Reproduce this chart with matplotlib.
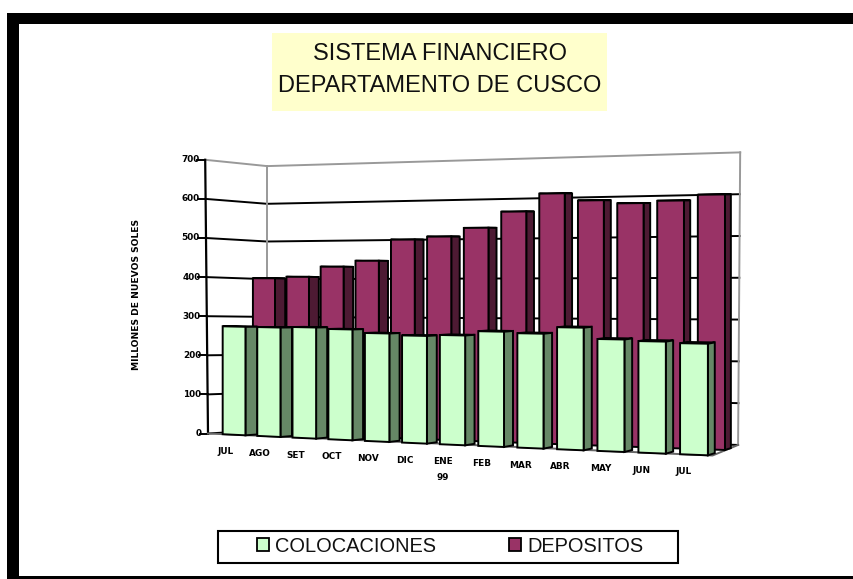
import matplotlib
matplotlib.use("Agg")
import matplotlib.pyplot as plt
from matplotlib.patches import Polygon, Rectangle, Patch

categories = ["JUL", "AGO", "SET", "OCT", "NOV", "DIC", "ENE\n99", "FEB", "MAR", "ABR", "MAY", "JUN", "JUL"]
colocaciones = [275, 275, 277, 274, 266, 262, 265, 276, 273, 289, 263, 260, 257]
depositos = [400, 404, 430, 445, 498, 505, 526, 565, 608, 590, 582, 587, 600]
y_ticks = [0, 100, 200, 300, 400, 500, 600, 700]
title_lines = ["SISTEMA FINANCIERO", "DEPARTAMENTO DE CUSCO"]
y_label = "MILLONES DE NUEVOS SOLES"

GREEN, GREEN_SIDE = "#CCFFCC", "#668866"
WINE, WINE_SIDE = "#993366", "#4D1A33"
YMAX = 700
UMAX = 13.2
UB = 13.0
LW = 1.4


def xf(u):
    return 208 + 34 * u + 0.32 * u * u


def proj(u, v, w, lean=False):
    """Pseudo-3D projection: u along categories, v depth (0 front .. 1 back), w value."""
    x = xf(u) + v * (59 - 2 * u)
    y_front = 433.5 + 1.667 * u
    y_back = 430 + 1.15 * u
    s_front = 0.391 + 0.0033 * u
    s_back = 0.377 + 0.00315 * u
    base = y_front + v * (y_back - y_front)
    scale = s_front + v * (s_back - s_front)
    if lean:
        x += -0.004 * w * (1 - v) + v * u / UB * (1 + 0.003 * w)
    return x, base - scale * w


fig = plt.figure(figsize=(8.54, 5.79), dpi=100, facecolor="white")
ax = fig.add_axes([0, 0, 1, 1])
ax.set_xlim(0, 854)
ax.set_ylim(579, 0)
ax.axis("off")

# black page frame (left, top, bottom)
for rect in [(7, 13, 12, 566), (7, 13, 847, 11), (7, 576, 847, 3)]:
    ax.add_patch(Rectangle(rect[:2], rect[2], rect[3], fc="black", ec="none", zorder=0))

# title
ax.add_patch(Rectangle((272, 33), 335, 78, fc="#FFFFCC", ec="none", zorder=1))
for line, yy in zip(title_lines, (54, 86)):
    ax.text(440, yy, line, ha="center", va="center", fontsize=17,
            family="Liberation Sans", color="#111111", zorder=2)

# walls and gridlines
for t in y_ticks:
    col = "#999999" if t == YMAX else "black"
    p0, p1, p2 = proj(0, 0, t, True), proj(0, 1, t, True), proj(UB, 1, t, True)
    ax.plot([p0[0], p1[0], p2[0]], [p0[1], p1[1], p2[1]], color=col, lw=LW, zorder=2)
    ax.plot([p0[0] - 8, p0[0]], [p0[1], p0[1]], color="black", lw=LW, zorder=2)
    ax.text(p0[0] - 6, p0[1], str(t), ha="right", va="center", fontsize=6.4,
            fontweight="bold", family="DejaVu Sans", zorder=3)
a, b = proj(0, 0, 0, True), proj(0, 0, YMAX, True)
ax.plot([a[0], b[0]], [a[1], b[1]], color="black", lw=1.6, zorder=2)
a, b = proj(0, 1, 0, True), proj(0, 1, YMAX, True)
ax.plot([a[0], b[0]], [a[1], b[1]], color="#999999", lw=LW, zorder=2)
a, b = proj(UB, 1, 0, True), proj(UB, 1, YMAX, True)
ax.plot([a[0], b[0]], [a[1], b[1]], color="#999999", lw=LW, zorder=2)
a, b, c = proj(0, 0, 0), proj(UMAX, 0, 0), proj(UB, 1, 0, True)
ax.plot([a[0], b[0], c[0]], [a[1], b[1], c[1]], color="#666666", lw=LW, zorder=2)


def bar(i, value, v0, v1, face, side, z):
    u0, u1 = i + 0.43, i + 1.09
    front = [proj(u0, v0, 0), proj(u1, v0, 0), proj(u1, v0, value), proj(u0, v0, value)]
    right = [proj(u1, v0, 0), proj(u1, v1, 0), proj(u1, v1, value), proj(u1, v0, value)]
    top = [proj(u0, v0, value), proj(u1, v0, value), proj(u1, v1, value), proj(u0, v1, value)]
    ax.add_patch(Polygon(top, fc="black", ec="black", lw=1.4, zorder=z))
    ax.add_patch(Polygon(right, fc=side, ec="black", lw=1.4, zorder=z))
    ax.add_patch(Polygon(front, fc=face, ec="black", lw=1.4, zorder=z))


for i, val in enumerate(depositos):
    bar(i, val, 0.52, 0.70, WINE, WINE_SIDE, 4 + i * 0.01)
for i, val in enumerate(colocaciones):
    bar(i, val, 0.0, 0.21, GREEN, GREEN_SIDE, 5 + i * 0.01)

# category labels
for i, lab in enumerate(categories):
    x, y = proj(i + 0.43, 0, 0)
    ax.text(x + 3, y + 13, lab, ha="center", va="top", fontsize=6.4, fontweight="bold",
            family="DejaVu Sans", linespacing=1.9, zorder=6)

ax.text(137, 294, y_label, rotation=90, ha="center", va="center", fontsize=6.6,
        fontweight="bold", family="DejaVu Sans")

# legend
ax.add_patch(Rectangle((218, 531), 460, 32, fc="white", ec="black", lw=1.5, zorder=5))
handles = [Patch(fc=GREEN, ec="black", lw=1.3), Patch(fc=WINE, ec="black", lw=1.3)]
leg = ax.legend(handles, ["COLOCACIONES", "DEPOSITOS"], loc="center", ncol=2,
                bbox_to_anchor=(450, 546), bbox_transform=ax.transData,
                frameon=False, labelcolor="#111111",
                prop={"family": "Liberation Sans", "size": 14.4},
                handlelength=0.62, handleheight=0.62, handletextpad=0.3,
                columnspacing=3.65, borderpad=0, borderaxespad=0)
leg.set_zorder(6)

fig.savefig("out.png", dpi=100)
